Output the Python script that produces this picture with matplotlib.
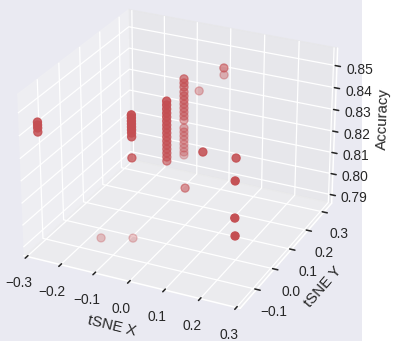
import numpy as np
import matplotlib
matplotlib.use('Agg')
import matplotlib.pyplot as plt
from matplotlib.patches import Rectangle
import seaborn as sns

sns.set_theme(style='darkgrid')
plt.rcParams['font.family'] = ['Liberation Sans', 'DejaVu Sans']

# t-SNE coordinates and accuracy of each run
tsne_x = ([-0.298] * 4 + [-0.077] * 9 + [-0.010] * 16 + [-0.007] * 19 +
          [0.074, 0.055, 0.003, 0.096, 0.177, 0.197, 0.040, 0.215, 0.226, -0.166, -0.089])
tsne_y = ([-0.124] * 4 + [-0.039] * 9 + [0.021] * 16 + [0.106] * 19 +
          [0.169, 0.207, 0.169, 0.016, 0.041, -0.002, 0.026, -0.037, -0.056, -0.049, -0.018])
accuracy = [
    0.8370, 0.8388, 0.8401, 0.8414,
    0.8260, 0.8354, 0.8371, 0.8385, 0.8398, 0.8411, 0.8424, 0.8438, 0.8451,
    0.8220, 0.8238, 0.8256, 0.8274, 0.8292, 0.8310, 0.8328, 0.8346,
    0.8364, 0.8381, 0.8399, 0.8417, 0.8434, 0.8452, 0.8470, 0.8487,
    0.8180, 0.8194, 0.8212, 0.8230, 0.8249, 0.8267, 0.8285, 0.8303, 0.8339, 0.8357,
    0.8375, 0.8393, 0.8411, 0.8429, 0.8447, 0.8465, 0.8487, 0.8505, 0.8523,
    0.8550, 0.8486, 0.8426, 0.8300, 0.8280, 0.8220, 0.8110, 0.8090, 0.8030, 0.7870, 0.7870,
]

x_label = 'tSNE X'
y_label = 'tSNE Y'
z_label = 'Accuracy'

W, H, DPI = 404, 351, 90
fig = plt.figure(figsize=(W / DPI, H / DPI), dpi=DPI)
fig.patch.set_facecolor('white')
fig.add_artist(Rectangle((0, 10 / H), 362 / W, 341 / H, transform=fig.transFigure,
                         facecolor='#EAEAF2', edgecolor='none', zorder=-10))

ax = fig.add_axes([-6.4 / W, 11.8 / H, 365.9 / W, 365.9 / H], projection='3d')
ax.patch.set_visible(False)
ax.scatter(tsne_x, tsne_y, accuracy, c='r', marker='o', s=42)
ax.set_xlim(-0.31, 0.31)
ax.set_ylim(-0.19, 0.35)
ax.set_zlim(0.786, 0.858)
ax.view_init(elev=26.5, azim=-64.5)
ax.set_xlabel(x_label)
ax.set_ylabel(y_label)
ax.set_zlabel(z_label)

fig.savefig('out.png', dpi=DPI)
